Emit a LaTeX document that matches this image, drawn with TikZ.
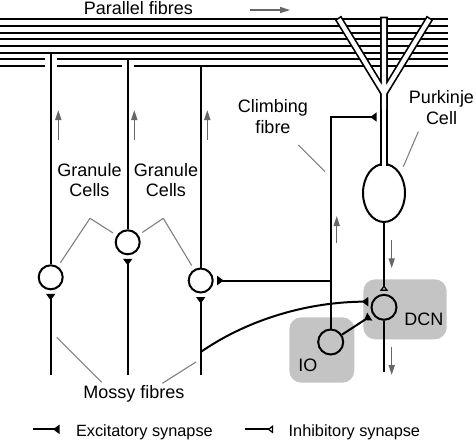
\documentclass[tikz,border=0pt]{standalone}
\usepackage{fontspec}
\setmainfont{Liberation Sans}
\usetikzlibrary{arrows.meta,shapes.geometric}

\begin{document}
\begin{tikzpicture}[x=1pt, y=-1pt, line width=2pt, font=\fontsize{18}{20.5}\selectfont,
    cell/.style={draw, circle, minimum size=24pt, inner sep=0pt},
    nucleus/.style={fill=black!23, rounded corners=12pt, inner sep=0pt},
    lbl/.style={inner sep=0pt, align=center},
    exc/.style={-{Triangle[reversed,length=6.5pt,width=9pt]}, shorten >=3.5pt},
    inh/.style={-{Triangle[reversed,open,line width=1.2pt,length=5.5pt,width=8pt]}, shorten >=3pt},
    flow/.style={draw=black!60, line width=1.5pt, -{Triangle[length=10pt,width=6pt]}},
    lead/.style={draw=black!50, line width=1.1pt},
    legendfont/.style={font=\fontsize{16.3}{19}\selectfont}]
    \useasboundingbox (0,0) rectangle (476,440);

    % parallel fibres
    \foreach \y in {19.3,26,32.7,39.3,46,52.7}
        \draw (0,\y) -- (448,\y);
    \draw (0,59.3) -- (44.7,59.3) (56.7,59.3) -- (448,59.3);
    \draw (0,66) -- (44.7,66) (56.7,66) -- (121.7,66) (133.7,66) -- (448,66);

    % nuclei
    \node [nucleus, minimum width=83.4pt, minimum height=60pt] (dcnbox) at (405,309.3) {};
    \node [nucleus, minimum width=65pt, minimum height=65.4pt] (iobox) at (321.8,350) {};

    % cells
    \node [cell] (gc1) at (50.7,277.3) {};
    \node [cell] (gc2) at (127.7,242.3) {};
    \node [cell] (gc3) at (200.7,280.5) {};
    \node [cell, minimum size=25pt] (dcn) at (384,307.3) {};
    \node [cell, minimum size=25pt] (io) at (330.7,342) {};
    \node [draw, ellipse, minimum width=42pt, minimum height=58pt, inner sep=0pt] (pc) at (384,193) {};

    % Purkinje dendrites
    \draw [double, double distance=4.3pt, line width=1.7pt, line cap=rect, line join=round]
        (340,21) -- (384,93) -- (428,21)
        (384,20.5) -- (384,130);
    \draw [double, double distance=4.3pt, line width=1.7pt]
        (384,110) -- ([yshift=-3pt]pc.north);

    % granule cell axons
    \coordinate (pf1) at (50.7,52.7);
    \coordinate (pf2) at (127.7,59.3);
    \coordinate (pf3) at (200.7,66);
    \draw (gc1) -- (pf1);
    \draw (gc2) -- (pf2);
    \draw (gc3) -- (pf3);

    % mossy fibres
    \coordinate (mf1) at (50.7,375);
    \coordinate (mf2) at (127.7,375);
    \coordinate (mf3) at (200.7,375);
    \coordinate (mfb) at (200.7,352);
    \draw [exc] (mf1) -- (gc1);
    \draw [exc] (mf2) -- (gc2);
    \draw [exc] (mf3) -- (gc3);
    \draw [exc] (mfb) .. controls (250,318) and (310,302) .. (dcn.155);

    % climbing fibre
    \coordinate (pcin) at (380.2,117);
    \coordinate (cfb) at (330.7,280.5);
    \draw [exc] (io) |- (pcin);
    \draw [exc] (cfb) -- (gc3);
    \draw [exc] (io) -- (dcn);

    % Purkinje axon and DCN output
    \coordinate (dcnout) at (384,371.7);
    \draw [inh] (pc) -- (dcn);
    \draw (dcn) -- (dcnout);

    % direction of signals
    \foreach \x/\ya/\yb in {58.3/140/110, 134.3/140/110, 207.3/140/110,
                            336.7/243/216, 391.7/240/268.3, 391.7/346.7/375}
        \draw [flow] (\x,\ya) -- (\x,\yb);
    \draw [flow] (250,10) -- (290,10);

    % labels
    \node [lbl, anchor=base] (pfl) at (138.5,14.5) {Parallel fibres};
    \node [lbl, anchor=base] (gcl1) at (89.5,196.5) {Granule\\Cells};
    \node [lbl, anchor=base] (gcl2) at (166,196.5) {Granule\\Cells};
    \node [lbl, anchor=base] (cfl) at (273,133.3) {Climbing\\fibre};
    \node [lbl, anchor=base] (pcl) at (441.5,124) {Purkinje\\Cell};
    \node [lbl, anchor=base] (mfl) at (134,398.5) {Mossy fibres};
    \node [lbl, anchor=base west] (dcnl) at (403.3,325.8) {DCN};
    \node [lbl, anchor=base west] (iol) at (297.3,371.5) {IO};

    % leader lines
    \coordinate (gcp1) at (90,218.3);
    \coordinate (gcp2) at (163.3,218.3);
    \draw [lead, shorten >=4.5pt] (gcp1) -- (gc1);
    \draw [lead, shorten >=4.5pt] (gcp1) -- (gc2);
    \draw [lead, shorten >=4.5pt] (gcp2) -- (gc2);
    \draw [lead, shorten >=4.5pt] (gcp2) -- (gc3);
    \coordinate (cfp) at (298.3,145);
    \coordinate (cfq) at (325,171.7);
    \draw [lead] (cfp) -- (cfq);
    \coordinate (pcp) at (418.3,131.7);
    \coordinate (pcq) at (403.3,166.7);
    \draw [lead] (pcp) -- (pcq);
    \coordinate (mfp1) at (101.7,382.3);
    \coordinate (mfq1) at (56.7,337.3);
    \coordinate (mfp2) at (162.3,383.3);
    \coordinate (mfq2) at (196,362);
    \draw [lead] (mfp1) -- (mfq1);
    \draw [lead] (mfp2) -- (mfq2);

    % legend
    \coordinate (ex1) at (33,429.3);
    \coordinate (ex2) at (59.5,429.3);
    \draw [exc, shorten >=0pt] (ex1) -- (ex2);
    \node [lbl, legendfont, anchor=base west] (exl) at (75,436) {Excitatory synapse};
    \coordinate (in1) at (245,429.3);
    \coordinate (in2) at (273,429.3);
    \draw [inh, shorten >=0pt] (in1) -- (in2);
    \node [lbl, legendfont, anchor=base west] (inl) at (287.7,436) {Inhibitory synapse};
\end{tikzpicture}
\end{document}
